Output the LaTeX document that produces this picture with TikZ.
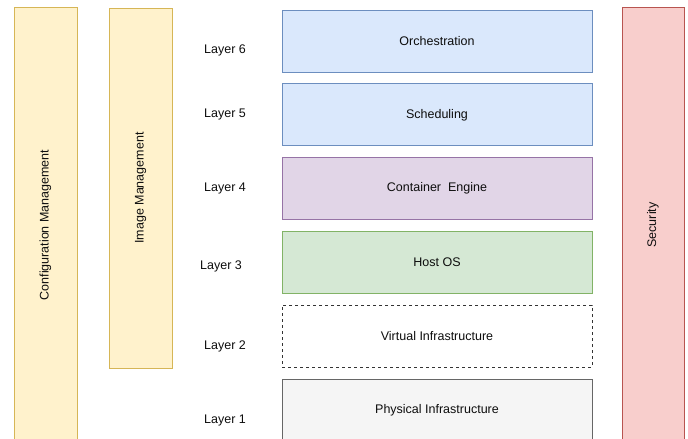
\documentclass[tikz,border=0pt]{standalone}
\usepackage{fontspec}
\setmainfont{Liberation Sans}
\usetikzlibrary{positioning}
\definecolor{blueFill}{HTML}{DAE8FC}
\definecolor{blueLine}{HTML}{6C8EBF}
\definecolor{purpleFill}{HTML}{E1D5E7}
\definecolor{purpleLine}{HTML}{9673A6}
\definecolor{greenFill}{HTML}{D5E8D4}
\definecolor{greenLine}{HTML}{82B366}
\definecolor{yellowFill}{HTML}{FFF2CC}
\definecolor{yellowLine}{HTML}{D6B656}
\definecolor{redFill}{HTML}{F8CECC}
\definecolor{redLine}{HTML}{B85450}
\definecolor{grayFill}{HTML}{F5F5F5}
\definecolor{grayLine}{HTML}{666666}
\tikzset{
    node distance=11pt, % gap between the stacked layers
    every node/.style={font=\fontsize{12.5}{15}\selectfont, text=black!95}
}

\begin{document}
\begin{tikzpicture}[x=1pt,y=1pt]
        \tikzset{
            layerbox/.style={draw,line width=0.8pt,minimum width=310pt,minimum height=62pt,inner sep=0pt},
            sidebar/.style={draw,line width=0.8pt,rotate=90,inner sep=0pt},
            layerlabel/.style={inner sep=1pt},
        }
        \useasboundingbox (0,0) rectangle (688,-439);
        % vertical bars
        \node[sidebar,fill=yellowFill,draw=yellowLine,minimum width=436pt,minimum height=63pt] (config) at (45.5,-225) {Configuration Management};
        \node[sidebar,fill=yellowFill,draw=yellowLine,minimum width=360pt,minimum height=63pt] (image) at (140.5,-188) {Image Management};
        \node[sidebar,fill=redFill,draw=redLine,minimum width=436pt,minimum height=62pt] (security) at (653,-225) {Security};
        % the stack
        \node[layerbox,fill=blueFill,draw=blueLine] (orch) at (437,-41) {Orchestration};
        \node[layerbox,fill=blueFill,draw=blueLine,below=of orch] (sched) {Scheduling};
        \node[layerbox,fill=purpleFill,draw=purpleLine,below=of sched] (engine) {Container\ \ Engine};
        \node[layerbox,fill=greenFill,draw=greenLine,below=of engine] (hostos) {Host OS};
        \node[layerbox,draw=black!80,dashed,below=of hostos] (virtual) {Virtual Infrastructure};
        \node[layerbox,fill=grayFill,draw=grayLine,below=of virtual] (physical) {Physical Infrastructure};
        % layer labels
        \node[layerlabel] (l6) at (225,-50) {Layer 6};
        \node[layerlabel] (l5) at (225,-114) {Layer 5};
        \node[layerlabel] (l4) at (225,-188) {Layer 4};
        \node[layerlabel] (l3) at (221,-266) {Layer 3};
        \node[layerlabel] (l2) at (225,-346) {Layer 2};
        \node[layerlabel] (l1) at (225,-420) {Layer 1};
    \end{tikzpicture}
\end{document}
